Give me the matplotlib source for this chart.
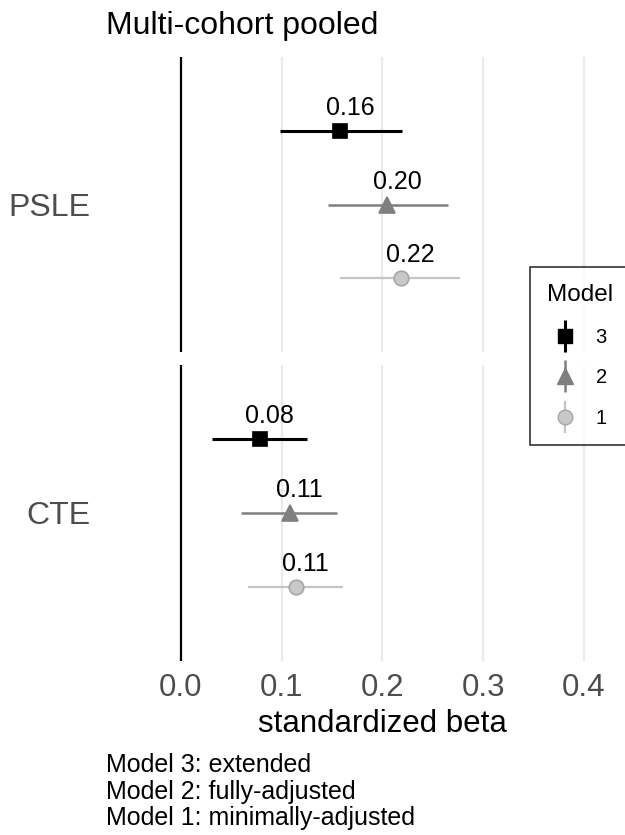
import numpy as np
import matplotlib.pyplot as plt
from matplotlib.lines import Line2D
from matplotlib.legend_handler import HandlerTuple

plt.rcParams['font.family'] = ['Liberation Sans', 'DejaVu Sans']

outcomes = ['PSLE', 'CTE']
models = ['3', '2', '1']
estimate = {'PSLE': [0.158, 0.205, 0.218], 'CTE': [0.078, 0.108, 0.114]}
ci_low = {'PSLE': [0.098, 0.146, 0.158], 'CTE': [0.031, 0.060, 0.067]}
ci_high = {'PSLE': [0.219, 0.265, 0.277], 'CTE': [0.125, 0.155, 0.161]}
labels = {'PSLE': ['0.16', '0.20', '0.22'], 'CTE': ['0.08', '0.11', '0.11']}
caption = ['Model 3: extended', 'Model 2: fully-adjusted', 'Model 1: minimally-adjusted']

# style per model (3, 2, 1)
markers = ['s', '^', 'o']
line_col = ['#000000', '#7f7f7f', '#c4c4c4']
face_col = ['#000000', '#7f7f7f', '#c8c8c8']
edge_col = ['#000000', '#7f7f7f', '#a6a6a6']
msize = [9.5, 11.5, 10.5]
lwid = [2.2, 1.8, 1.6]

W, H = 625, 835
fig = plt.figure(figsize=(W / 100, H / 100), dpi=100)

left_px, right_px = 104, 660
x0_px, px_per_unit = 181, 1007.0
xlim = ((left_px - x0_px) / px_per_unit, (right_px - x0_px) / px_per_unit)
panels = [(57, 352), (365, 661)]

axes = []
for outcome, (top, bot) in zip(outcomes, panels):
    ax = fig.add_axes([left_px / W, 1 - bot / H, (right_px - left_px) / W, (bot - top) / H])
    ax.set_xlim(*xlim)
    ax.set_ylim(0, 4)
    for s in ax.spines.values():
        s.set_visible(False)
    ax.set_xticks([0.1, 0.2, 0.3, 0.4])
    ax.grid(axis='x', color='#ebebeb', lw=1.6)
    ax.set_axisbelow(True)
    ax.axvline(0, color='black', lw=1.6, zorder=2)
    ax.set_yticks([2])
    ax.set_yticklabels([outcome])
    ax.tick_params(axis='y', length=0, pad=10, labelsize=23, labelcolor='#4d4d4d')
    ax.tick_params(axis='x', length=0, labelbottom=False)
    for i in range(3):
        yy = 3 - i
        ax.plot([ci_low[outcome][i], ci_high[outcome][i]], [yy, yy], color=line_col[i], lw=lwid[i],
                solid_capstyle='butt', zorder=3)
        ax.plot(estimate[outcome][i], yy, marker=markers[i], ms=msize[i], mfc=face_col[i],
                mec=edge_col[i], mew=1.2, ls='none', zorder=4)
        ax.annotate(labels[outcome][i], (estimate[outcome][i], yy), xytext=(7, 11.5),
                    textcoords='offset points', ha='center', va='baseline', fontsize=18, color='black')
    axes.append(ax)

ax = axes[-1]
ax.set_xticks([0.0, 0.1, 0.2, 0.3, 0.4])
ax.set_xticklabels(['0.0', '0.1', '0.2', '0.3', '0.4'])
ax.tick_params(axis='x', labelbottom=True, pad=9, labelsize=22.5, labelcolor='#4d4d4d')
ax.get_xgridlines()[0].set_visible(False)
ax.set_xlabel('standardized beta', fontsize=22.5, labelpad=4)

fig.text(left_px / W + 0.004, 1 - 26 / H, 'Multi-cohort pooled', fontsize=23, va='center', ha='left')
for k, line in enumerate(caption):
    fig.text(left_px / W + 0.004, 1 - (772 + 26.5 * k) / H, line, fontsize=18, va='baseline', ha='left')

# legend
handles = []
for i in range(3):
    vline = Line2D([], [], marker='|', ms=23, mew=lwid[i], color=line_col[i], ls='none')
    pt = Line2D([], [], marker=markers[i], ms=msize[i], mfc=face_col[i], mec=edge_col[i], ls='none')
    handles.append((vline, pt))
leg = fig.legend(handles, models, title='Model', loc='upper left', bbox_to_anchor=(530 / W, 1 - 267 / H),
                 handler_map={tuple: HandlerTuple(ndivide=1, pad=0)}, frameon=True, fancybox=False,
                 edgecolor='black', fontsize=14.5, title_fontsize=17.5, handlelength=1.2, labelspacing=1.07,
                 borderpad=0.85, handletextpad=0.9, borderaxespad=0)
leg.get_frame().set_linewidth(1.2)

fig.savefig('out.png', dpi=100)
